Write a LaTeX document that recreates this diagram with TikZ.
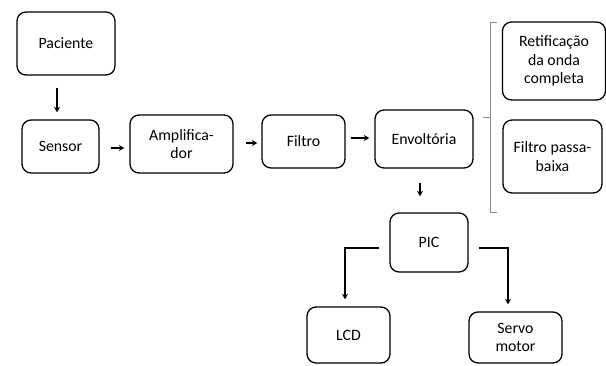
\documentclass[tikz,border=0pt]{standalone}
\usepackage{fontspec}
\setmainfont{Carlito}
\usetikzlibrary{arrows.meta}
\begin{document}
\begin{tikzpicture}[x=1pt,y=-1pt,
  box/.style={draw, line width=1.3pt, rounded corners=9pt, align=center, inner sep=1pt,
    font=\fontsize{15.8}{18.5}\selectfont},
  arr/.style={line width=1.2pt, -{Stealth[length=5.5pt,width=6pt]}},
  brk/.style={draw=black!45, line width=0.8pt}]
\useasboundingbox (0,0) rectangle (606,365);
\node[box, minimum width=98pt, minimum height=63pt] (pac) at (66,43.5) {Paciente};
\node[box, minimum width=77pt, minimum height=53pt] (sen) at (60.5,146.5) {Sensor};
\node[box, minimum width=103pt, minimum height=58pt] (amp) at (181.5,144) {Amplifica-\\dor};
\node[box, minimum width=83pt, minimum height=53pt] (fil) at (303.5,141.5) {Filtro};
\node[box, minimum width=98pt, minimum height=58pt] (env) at (424,139) {Envoltória};
\node[box, minimum width=103pt, minimum height=78pt] (ret) at (554,61) {Retificação\\da onda\\completa};
\node[box, minimum width=99pt, minimum height=73pt] (fpb) at (552.5,156.5) {Filtro passa-\\baixa};
\node[box, minimum width=78pt, minimum height=59pt] (pic) at (429,242.5) {PIC};
\node[box, minimum width=83pt, minimum height=56pt] (lcd) at (348.5,335) {LCD};
\node[box, minimum width=93pt, minimum height=51pt] (ser) at (515.5,337.5) {Servo\\motor};
% arrows
\draw[arr, shorten <=12pt, shorten >=7pt] ([xshift=-9pt]pac.south) -- ([xshift=-9pt]pac.south |- sen.north);
\draw[arr, shorten <=11pt, shorten >=5pt] ([yshift=-1.5pt]sen.east) -- ([yshift=-1.5pt]sen.east -| amp.west);
\draw[arr, shorten <=12pt, shorten >=4pt] ([yshift=1pt]amp.east) -- ([yshift=1pt]amp.east -| fil.west);
\draw[arr, shorten <=5pt, shorten >=5pt] ([yshift=3.5pt]fil.east) -- ([yshift=3.5pt]fil.east -| env.west);
\draw[arr, shorten <=14pt, shorten >=16pt] ([xshift=-4pt]env.south) -- ([xshift=-4pt]env.south |- pic.north);
\draw[arr, shorten <=10pt, shorten >=7pt] ([yshift=-5.5pt]pic.west) -| ([xshift=-3.5pt]lcd.north);
\draw[arr, shorten <=10pt, shorten >=7pt] ([yshift=-5.5pt]pic.east) -| ([xshift=-7.5pt]ser.north);
% bracket
\draw[brk] (497,22) -- (490,22) -- (490,212) -- (497,212);
\draw[brk] (483,117) -- (490,117);
\end{tikzpicture}
\end{document}
